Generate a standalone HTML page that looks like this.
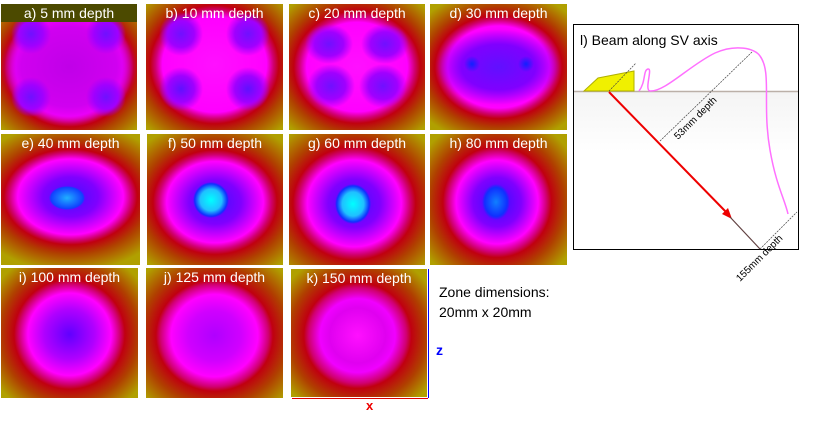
<!DOCTYPE html><html><head><style>
body{margin:0;width:815px;height:422px;background:#fff;position:relative;overflow:hidden;font-family:"Liberation Sans",sans-serif}
.p{position:absolute;background-color:#b0a400;box-sizing:border-box}
.t{position:absolute;top:1px;left:0;width:100%;text-align:center;color:#fff;font-size:14px;white-space:nowrap}
</style></head><body>
<!-- a -->
<div class="p" style="left:1px;top:4px;width:136px;height:126px;background:
radial-gradient(circle 20px at 30px 30px,#7010ff,#a000ff 60%,rgba(200,0,255,0) 100%),
radial-gradient(circle 20px at 105px 30px,#7010ff,#a000ff 60%,rgba(200,0,255,0) 100%),
radial-gradient(circle 20px at 30px 93px,#7010ff,#a000ff 60%,rgba(200,0,255,0) 100%),
radial-gradient(circle 20px at 105px 93px,#7010ff,#a000ff 60%,rgba(200,0,255,0) 100%),
radial-gradient(ellipse 50% 45% at 50% 50%,#c000e8,#d000f0 70%,rgba(255,0,255,0) 100%),
radial-gradient(ellipse 50% 50% at 50% 50%,#ff10ff 0%,#ff00ff 78%,#d00070 88%,#c00010 95%,#b04000 110%,#b0a000 140%)">
<div style="position:absolute;left:0;top:0;width:136px;height:18px;background:#4c4a00"></div><div class="t">a) 5 mm depth</div></div>
<!-- b -->
<div class="p" style="left:146px;top:4px;width:137px;height:126px;background:
radial-gradient(circle 22px at 35px 30px,#7010ff,#a000ff 60%,rgba(200,0,255,0) 100%),
radial-gradient(circle 22px at 102px 30px,#7010ff,#a000ff 60%,rgba(200,0,255,0) 100%),
radial-gradient(circle 22px at 35px 85px,#6010ff,#a000ff 60%,rgba(200,0,255,0) 100%),
radial-gradient(circle 22px at 102px 85px,#6010ff,#a000ff 60%,rgba(200,0,255,0) 100%),
radial-gradient(ellipse 50% 50% at 50% 48%,#ff10ff 0%,#ff00ff 76%,#d00070 86%,#c00010 94%,#b04000 110%,#b0a000 140%)">
<div class="t">b) 10 mm depth</div></div>
<!-- c -->
<div class="p" style="left:289px;top:4px;width:136px;height:126px;background:
radial-gradient(ellipse 24px 20px at 40px 40px,#7010ff,#a000ff 60%,rgba(200,0,255,0) 100%),
radial-gradient(ellipse 24px 20px at 96px 40px,#7010ff,#a000ff 60%,rgba(200,0,255,0) 100%),
radial-gradient(ellipse 24px 22px at 42px 82px,#7010ff,#a000ff 60%,rgba(200,0,255,0) 100%),
radial-gradient(ellipse 24px 22px at 94px 82px,#7010ff,#a000ff 60%,rgba(200,0,255,0) 100%),
radial-gradient(ellipse 50% 48% at 50% 50%,#ff10ff 0%,#ff00ff 74%,#d00070 85%,#c00010 93%,#b04000 110%,#b0a000 140%)">
<div class="t">c) 20 mm depth</div></div>
<!-- d -->
<div class="p" style="left:430px;top:4px;width:137px;height:126px;background:
radial-gradient(circle 8px at 42px 60px,#1020ff,rgba(80,0,255,0) 100%),
radial-gradient(circle 8px at 96px 60px,#1020ff,rgba(80,0,255,0) 100%),
radial-gradient(ellipse 45% 30% at 50% 50%,#6010ff,#8000ff 60%,rgba(180,0,255,0) 100%),
radial-gradient(ellipse 50% 44% at 50% 50%,#c000ff 0%,#ff00ff 74%,#d00070 85%,#c00010 93%,#b04000 110%,#b0a000 140%)">
<div class="t">d) 30 mm depth</div></div>
<!-- e -->
<div class="p" style="left:1px;top:134px;width:139px;height:131px;background:
radial-gradient(ellipse 18px 12px at 66px 64px,#20b0ff,#1040ff 90%,rgba(60,0,255,0) 100%),
radial-gradient(ellipse 50% 38% at 50% 48%,#4010ff 0%,#8000ff 40%,#ff00ff 76%,#d00070 88%,#c00010 96%,#b04000 115%,#b0a000 150%)">
<div class="t">e) 40 mm depth</div></div>
<!-- f -->
<div class="p" style="left:147px;top:134px;width:136px;height:131px;background:
radial-gradient(circle 18px at 64px 66px,#00ffff,#20c0ff 60%,#1030ff 90%,rgba(60,0,255,0) 100%),
radial-gradient(ellipse 48% 42% at 50% 52%,#4010ff 0%,#8000ff 40%,#ff00ff 74%,#d00070 86%,#c00010 95%,#b04000 115%,#b0a000 150%)">
<div class="t">f) 50 mm depth</div></div>
<!-- g -->
<div class="p" style="left:289px;top:134px;width:136px;height:131px;background:
radial-gradient(ellipse 18px 20px at 64px 70px,#00ffff,#20c0ff 60%,#1030ff 90%,rgba(60,0,255,0) 100%),
radial-gradient(ellipse 48% 46% at 48% 53%,#4010ff 0%,#8000ff 40%,#ff00ff 72%,#d00070 85%,#c00010 94%,#b04000 115%,#b0a000 150%)">
<div class="t">g) 60 mm depth</div></div>
<!-- h -->
<div class="p" style="left:430px;top:134px;width:137px;height:131px;background:
radial-gradient(ellipse 14px 18px at 66px 68px,#1080ff,#1030ff 80%,rgba(60,0,255,0) 100%),
radial-gradient(ellipse 44% 47% at 49% 52%,#3010ff 0%,#8000ff 40%,#ff00ff 68%,#d00070 82%,#c00010 90%,#b04000 112%,#b0a000 145%)">
<div class="t">h) 80 mm depth</div></div>
<!-- i -->
<div class="p" style="left:1px;top:268px;width:137px;height:130px;background:
radial-gradient(ellipse 46% 48% at 50% 51%,#6000ff 0%,#b000ff 40%,#ff00ff 66%,#d00070 80%,#c00010 88%,#b04000 110%,#b0a000 140%)">
<div class="t">i) 100 mm depth</div></div>
<!-- j -->
<div class="p" style="left:146px;top:268px;width:137px;height:130px;background:
radial-gradient(ellipse 48% 48% at 50% 52%,#b000ff 0%,#d000ff 40%,#ff00ff 66%,#d00070 82%,#c00010 89%,#b04000 112%,#b0a000 145%)">
<div class="t">j) 125 mm depth</div></div>
<!-- k -->
<div class="p" style="left:291px;top:269px;width:136px;height:128px;background:
radial-gradient(ellipse 46% 48% at 49% 52%,#ff10ff 0%,#e000f0 45%,#f000ff 60%,#d00070 78%,#c00010 86%,#b04000 110%,#b0a000 140%)">
<div class="t">k) 150 mm depth</div></div>
<div style="position:absolute;left:428px;top:269px;width:1px;height:129px;background:#00f"></div>
<div style="position:absolute;left:292px;top:398px;width:136px;height:1px;background:#d00"></div>
<div style="position:absolute;left:366px;top:398px;color:#e00;font-weight:bold;font-size:13px">x</div>
<div style="position:absolute;left:436px;top:342px;color:#00f;font-weight:bold;font-size:14px">z</div>
<div style="position:absolute;left:439px;top:282px;font-size:14px;line-height:20px;color:#000">Zone dimensions:<br>20mm x 20mm</div>
<!-- l -->
<svg style="position:absolute;left:0;top:0" width="815" height="422">
<defs><linearGradient id="sh" x1="0" y1="0" x2="0" y2="1"><stop offset="0" stop-color="#f4f4f4"/><stop offset="1" stop-color="#fff"/></linearGradient></defs>
<rect x="573.5" y="24.5" width="225" height="225" fill="#fff" stroke="#000"/>
<rect x="574" y="92" width="224" height="60" fill="url(#sh)"/>
<line x1="574" y1="91.5" x2="798" y2="91.5" stroke="#bbb0a8" stroke-width="1.5"/>
<polygon points="584,91 598,78 634,71 634,91" fill="#f0f000" stroke="#b0b000"/>
<path d="M639,91 C646,82 643,70 648,69 C653,68 644,90 650,91 C665,92 690,65 715,53 C735,44 755,48 760,56 C772,72 762,105 770,150 C776,185 785,200 788,214" fill="none" stroke="#ff70ff" stroke-width="1.5"/>
<line x1="609" y1="91" x2="636" y2="63" stroke="#444" stroke-dasharray="2,1" stroke-width="0.7"/>
<line x1="660" y1="141" x2="752" y2="52" stroke="#444" stroke-dasharray="2,1" stroke-width="0.7"/>
<line x1="760" y1="249" x2="797" y2="212" stroke="#444" stroke-dasharray="2,1" stroke-width="0.7"/>
<line x1="609" y1="92" x2="728" y2="214" stroke="#e00" stroke-width="2"/>
<polygon points="732,219 722,214 728,208" fill="#e00"/>
<line x1="730" y1="217" x2="760" y2="249" stroke="#604040" stroke-width="1.2"/>
<text x="580" y="45" font-size="14" font-family="Liberation Sans">l) Beam along SV axis</text>
<text x="0" y="0" font-size="10" font-family="Liberation Sans" transform="translate(678,140) rotate(-45)">53mm depth</text>
<text x="0" y="0" font-size="10" font-family="Liberation Sans" transform="translate(740,282) rotate(-45)">155mm depth</text>
</svg>
</body></html>
